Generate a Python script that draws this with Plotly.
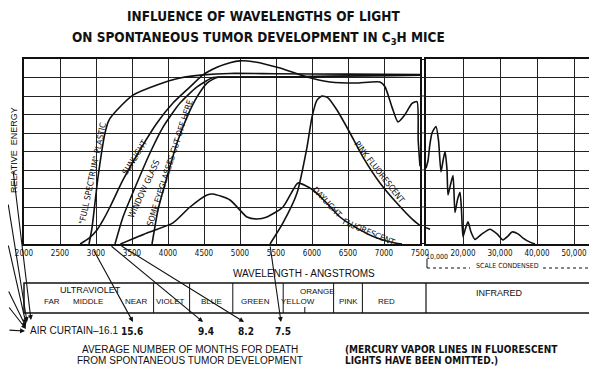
import plotly.graph_objects as go

# ---------------- data (wavelength in Angstroms, relative energy 0-10) ----------------
sun_x = [2780, 2900, 3014, 3100, 3194, 3375, 3611, 3847, 4069, 4306, 4486, 4680, 4861, 5000,
         5208, 5556, 5931, 6250, 6600, 6944, 7014, 7111, 7194, 7292, 7389, 7458, 7475, 7500]
sun_y = [0.0, 0.3, 0.76, 1.3, 2.0, 3.46, 5.08, 6.54, 7.62, 8.49, 9.14, 9.55, 9.8, 9.9,
         9.84, 9.51, 9.03, 8.76, 8.7, 8.76, 8.5, 7.4, 6.6, 7.0, 7.6, 7.7, 5.6, 4.2]
sun_ir_x = [10000, 10540, 11000, 11620, 12700, 13380, 14050, 14600, 15140, 15680, 15950,
            16620, 17300, 17840, 18510, 19190, 19590, 20000, 20680, 21350, 22160, 23240,
            25130, 27300, 29190, 30810, 32160, 33240, 34860, 36220, 38100, 39460]
sun_ir_y = [4.1, 4.5, 5.3, 6.0, 6.35, 5.6, 3.9, 4.5, 5.0, 4.0, 2.65,
            3.2, 3.7, 1.7, 2.4, 2.8, 1.85, 0.4, 0.85, 1.2, 0.65, 0.25,
            0.55, 0.8, 0.55, 0.22, 0.43, 0.65, 0.55, 0.32, 0.1, 0.0]

plastic_x = [2903, 2944, 3028, 3125, 3181, 3292, 3514, 3847, 4167, 4486, 4861, 5500, 6500, 7500]
plastic_y = [0.0, 0.86, 3.62, 6.0, 6.7, 7.24, 8.05, 8.6, 8.97, 9.14, 9.22, 9.2, 9.18, 9.16]

window_x = [3264, 3375, 3569, 3750, 3931, 4167, 4403, 4625, 4861, 5500, 6500, 7500]
window_y = [0.0, 1.46, 3.3, 4.92, 6.32, 7.62, 8.49, 9.0, 9.02, 9.02, 9.08, 9.12]

eyeglass_x = [3778, 3861, 3986, 4125, 4264, 4403, 4542, 4681, 4900, 5500, 6500, 7500]
eyeglass_y = [0.0, 1.84, 3.62, 5.46, 6.86, 7.95, 8.7, 9.0, 9.02, 9.02, 9.08, 9.12]

daylight_x = [3340, 3708, 4069, 4306, 4542, 4625, 4861, 5097, 5236, 5375, 5597, 5736, 5806,
              6014, 6208, 6389, 6625, 6903, 7153, 7250]
daylight_y = [0.0, 0.6, 1.14, 2.0, 2.65, 2.7, 2.38, 1.46, 1.35, 1.46, 2.0, 2.92, 3.3,
              2.92, 2.2, 1.46, 0.86, 0.32, 0.05, 0.0]

pink_x = [5417, 5597, 5792, 5931, 6000, 6069, 6139, 6222, 6347, 6528, 6708, 6944, 7181, 7403, 7500]
pink_y = [0.0, 1.14, 2.76, 5.24, 6.86, 7.78, 8.0, 7.9, 7.24, 6.0, 4.7, 3.3, 2.2, 1.3, 1.0]
pink_ir_x = [10000, 11100]
pink_ir_y = [0.88, 0.8]

x_ticks = [2000, 2500, 3000, 3500, 4000, 4500, 5000, 5500, 6000, 6500, 7000, 7500]
x2_ticks = [20000, 30000, 40000, 50000]
x2_labels = ["20,000", "30,000", "40,000", "50,000"]

band_dividers = [3800, 4300, 4900, 5600, 6300, 6700]
band_names = ["FAR", "MIDDLE", "NEAR", "VIOLET", "BLUE", "GREEN", "YELLOW", "PINK", "RED"]
band_pos = [2390, 2890, 3560, 4040, 4600, 5220, 5800, 6500, 7040]

months_labels = ["15.6", "9.4", "8.2", "7.5"]

# ---------------- geometry (screen pixels; the page body adds an 8px offset) ----------------
OFF = 8
L, R, T, B = 24, 592, 59, 244
W, H = R - L, B - T
FIG_W, FIG_H = 597 - OFF, 377 - OFF


def P(px, py):
    return (px - L) / W, (B - py) / H


NARROW = "Liberation Sans Narrow, DejaVu Sans Condensed, Arial Narrow, Liberation Sans, sans-serif"
SANS = "Liberation Sans, Arial, DejaVu Sans, sans-serif"
INK = "#111111"

fig = go.Figure()
line = dict(color=INK, width=1.6, shape="spline", smoothing=0.6)
for xs, ys, ax in [(sun_x, sun_y, "x"), (sun_ir_x, sun_ir_y, "x2"), (plastic_x, plastic_y, "x"),
                   (window_x, window_y, "x"), (eyeglass_x, eyeglass_y, "x"),
                   (daylight_x, daylight_y, "x"), (pink_x, pink_y, "x"), (pink_ir_x, pink_ir_y, "x2")]:
    fig.add_trace(go.Scatter(x=xs, y=ys, mode="lines", line=line, xaxis=ax,
                             yaxis="y" if ax == "x" else "y2", showlegend=False, hoverinfo="skip"))

split1 = (420 - L) / W
split2 = (426 - L) / W

grid = dict(showgrid=True, gridcolor="#222", gridwidth=1, zeroline=False, showline=True,
            linecolor=INK, linewidth=2, mirror=True, ticks="", automargin=False)
fig.update_layout(
    width=FIG_W, height=FIG_H,
    margin=dict(l=L - OFF, r=FIG_W - (R - OFF), t=T - OFF, b=FIG_H - (B - OFF), autoexpand=False),
    paper_bgcolor="white", plot_bgcolor="white", showlegend=False,
    xaxis=dict(domain=[0, split1], range=[2000, 7500], tickvals=x_ticks,
               tickfont=dict(family=NARROW, size=8, color=INK), **grid),
    xaxis2=dict(domain=[split2, 1], range=[10000, 54865], tickvals=x2_ticks, ticktext=x2_labels,
                tickfont=dict(family=NARROW, size=8, color=INK), anchor="y2", **grid),
    yaxis=dict(domain=[0, 1], range=[0, 10], dtick=1, showticklabels=False, **grid),
    yaxis2=dict(domain=[0, 1], range=[0, 10], dtick=1, showticklabels=False, anchor="x2", **grid),
)

shapes = []
# horizontal grid through the axis break
for k in range(1, 10):
    shapes.append(dict(type="line", xref="paper", yref="y", x0=split1, x1=split2, y0=k, y1=k,
                       line=dict(color="#222", width=1)))
for yy in (0, 10):
    shapes.append(dict(type="line", xref="paper", yref="y", x0=split1, x1=split2, y0=yy, y1=yy,
                       line=dict(color=INK, width=2)))

# spectral band box
bx0, by0 = P(24, 283)
bx1, by1 = P(592, 313)
shapes.append(dict(type="rect", xref="paper", yref="paper", x0=bx0, x1=bx1, y0=by1, y1=by0,
                   line=dict(color=INK, width=1.5)))
for d in band_dividers:
    shapes.append(dict(type="line", xref="x", yref="paper", x0=d, x1=d, y0=by1, y1=by0,
                       line=dict(color=INK, width=1)))
shapes.append(dict(type="line", xref="paper", yref="paper", x0=split2, x1=split2, y0=by1, y1=by0,
                   line=dict(color=INK, width=1.2)))
shapes.append(dict(type="line", xref="x", yref="paper", x0=5900, x1=5900, y0=by1, y1=P(0, 307)[1],
                   line=dict(color=INK, width=1)))

# "scale condensed" bracket
yb = P(0, 268)[1]
for xa, xb in [(427, 470), (543, 590)]:
    shapes.append(dict(type="line", xref="paper", yref="paper", x0=P(xa, 0)[0], x1=P(xb, 0)[0],
                       y0=yb, y1=yb, line=dict(color=INK, width=1, dash="dot")))
shapes.append(dict(type="line", xref="paper", yref="paper", x0=P(427, 0)[0], x1=P(427, 0)[0],
                   y0=yb, y1=P(0, 259)[1], line=dict(color=INK, width=1)))
shapes.append(dict(type="line", xref="paper", yref="paper", x0=P(590, 0)[0], x1=P(590, 0)[0],
                   y0=yb, y1=P(0, 262)[1], line=dict(color=INK, width=1)))
fig.update_layout(shapes=shapes)

ann = []


def text(px, py, s, size=9, family=SANS, angle=0, xanchor="center", bold=False):
    x, y = P(px, py)
    ann.append(dict(xref="paper", yref="paper", x=x, y=y, text=f"<b>{s}</b>" if bold else s,
                    showarrow=False, textangle=angle, xanchor=xanchor, yanchor="middle",
                    font=dict(family=family, size=size, color=INK)))


def dtext(x, y, s, angle, size=8.5):
    ann.append(dict(xref="x", yref="y", x=x, y=y, text=s, showarrow=False, textangle=angle,
                    xanchor="center", yanchor="middle",
                    font=dict(family=NARROW, size=size, color=INK)))


def arrow(tail, head):
    hx, hy = P(*head)
    ann.append(dict(xref="paper", yref="paper", x=hx, y=hy, ax=tail[0] - head[0], ay=tail[1] - head[1],
                    text="", showarrow=True, arrowhead=2, arrowsize=0.9, arrowwidth=1.1,
                    arrowcolor=INK))


# title
text(263, 16, "INFLUENCE OF WAVELENGTHS OF LIGHT", size=13.5, family=NARROW, bold=True)
text(258, 38, "ON SPONTANEOUS TUMOR DEVELOPMENT IN C<sub>3</sub>H MICE", size=13.5, family=NARROW, bold=True)
text(14, 150, "RELATIVE  ENERGY", size=9, angle=-90)

# curve labels
dtext(2950, 3.85, '"FULL SPECTRUM" PLASTIC', -78)
dtext(3540, 4.7, "SUNLIGHT", -58)
dtext(3660, 3.0, "WINDOW GLASS", -65)
dtext(4020, 4.4, "SOME EYEGLASSES CUT OFF HERE", -72)
dtext(6940, 3.9, "PINK FLUORESCENT", 52)
dtext(6208, 2.25, "DAYLIGHT", 47)
dtext(6790, 0.65, "FLUORESCENT", 23)

# axis annotation
text(437, 257, "10,000", size=7, family=NARROW)
text(507, 266, "SCALE CONDENSED", size=7, family=NARROW)
text(304, 273, "WAVELENGTH - ANGSTROMS", size=10)

# band labels
text(90, 290, "ULTRAVIOLET", size=9)
for name, pos in zip(band_names, band_pos):
    ann.append(dict(xref="x", yref="paper", x=pos, y=P(0, 301)[1], text=name, showarrow=False,
                    yanchor="middle", font=dict(family=SANS, size=8, color=INK)))
ann.append(dict(xref="x", yref="paper", x=6080, y=P(0, 291)[1], text="ORANGE", showarrow=False,
                yanchor="middle", font=dict(family=SANS, size=8, color=INK)))
ann.append(dict(xref="x2", yref="paper", x=30000, y=P(0, 293)[1], text="INFRARED", showarrow=False,
                yanchor="middle", font=dict(family=SANS, size=9, color=INK)))

# months to death
text(28, 330, "AIR CURTAIN–16.1", size=10, xanchor="left")
for s, px in zip(months_labels, [132, 206, 246, 283]):
    text(px, 331, s, size=10, family=NARROW, bold=True)
text(190, 349, "AVERAGE NUMBER OF MONTHS FOR DEATH", size=10)
text(190, 360, "FROM SPONTANEOUS TUMOR DEVELOPMENT", size=10)
text(343, 349, "(MERCURY VAPOR LINES IN FLUORESCENT", size=10, family=NARROW, xanchor="left", bold=True)
text(343, 360, "LIGHTS HAVE BEEN OMITTED.)", size=10, family=NARROW, xanchor="left", bold=True)

# arrows (tails may run off the left edge, as in the original)
for tail, head in [((13, 170), (31, 320)), ((4, 203), (27, 322)), ((4, 244), (26, 324)),
                   ((4, 290), (26, 327)), ((4, 306), (26, 329)), ((4, 330), (25, 331)),
                   ((93, 249), (133, 322)), ((110, 245), (203, 322)), ((120, 245), (244, 322)),
                   ((270, 245), (281, 322))]:
    arrow(tail, head)

fig.update_layout(annotations=ann)
fig.write_html("out.html")
